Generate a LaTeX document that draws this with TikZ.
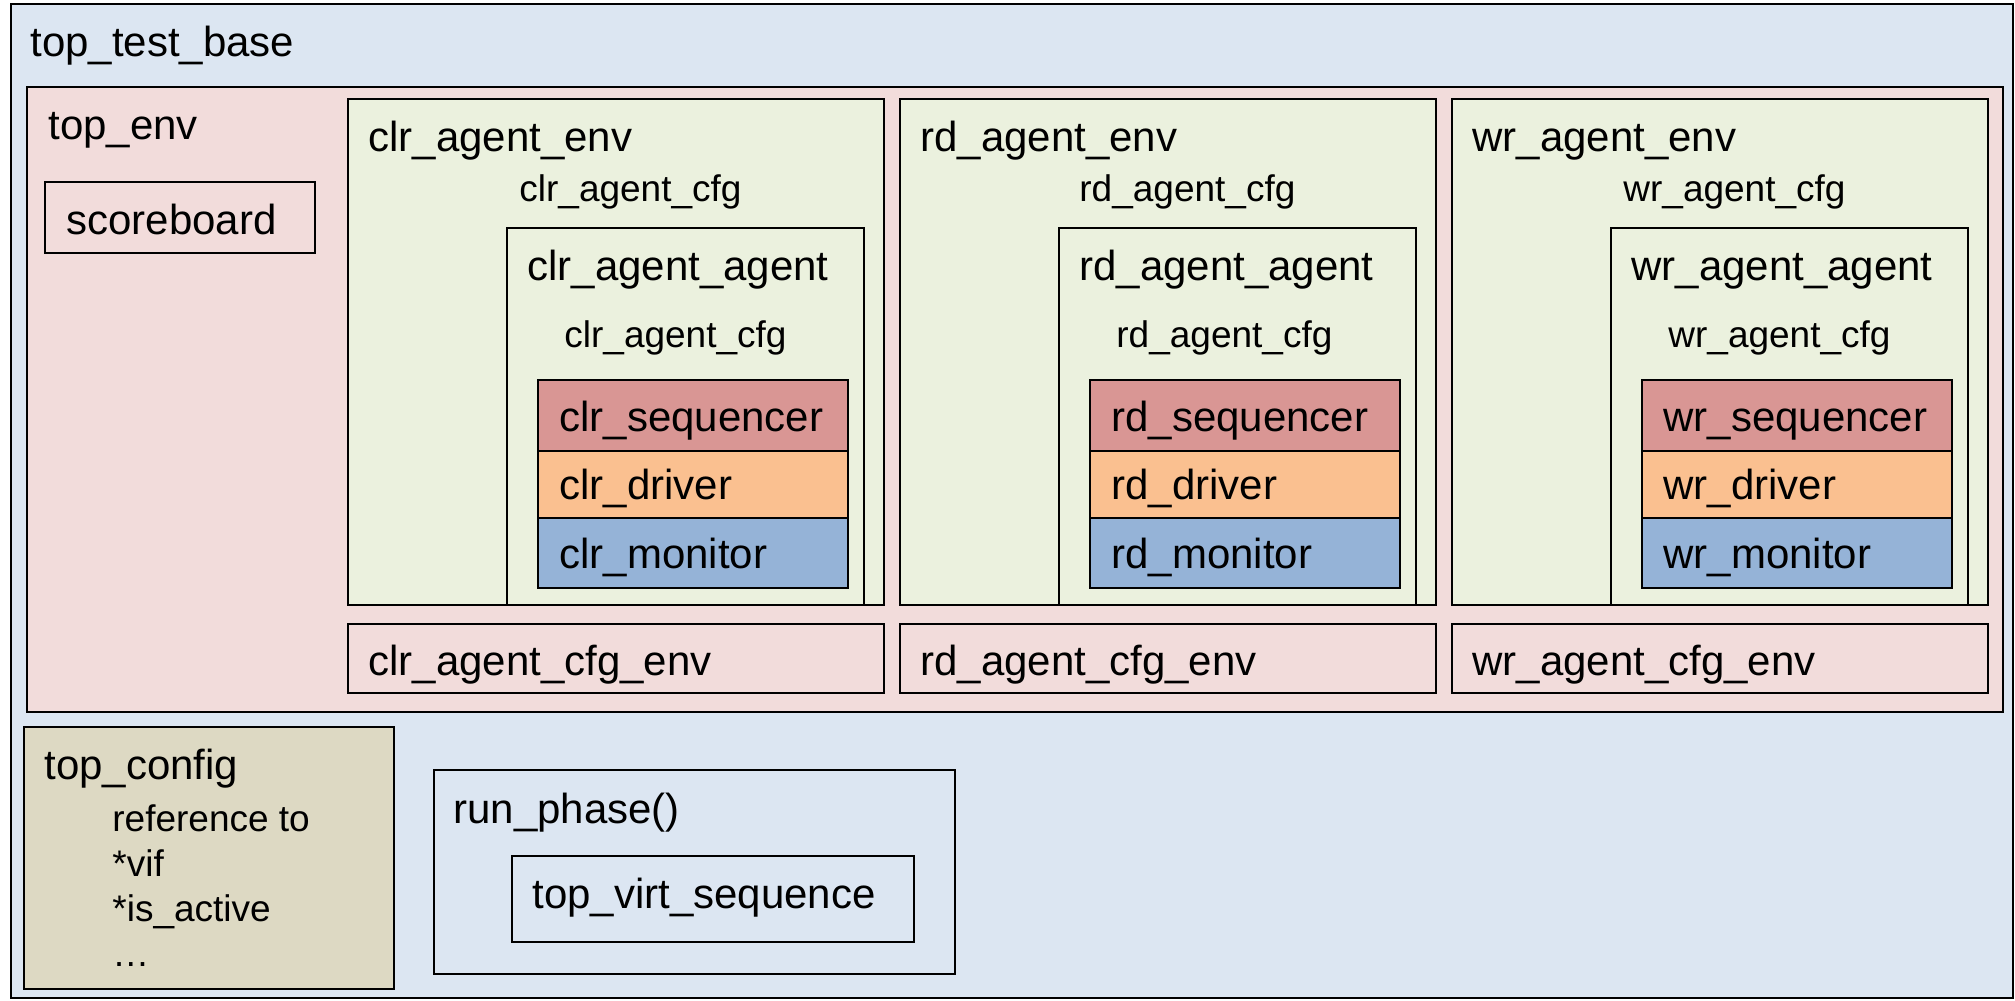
\documentclass[tikz,border=0pt]{standalone}
\usepackage{fontspec}
\setmainfont{Liberation Sans}
\definecolor{outerblue}{HTML}{DCE6F2}
\definecolor{envpink}{HTML}{F2DCDB}
\definecolor{agentgreen}{HTML}{EBF1DE}
\definecolor{seqred}{HTML}{D99694}
\definecolor{drvorange}{HTML}{FAC090}
\definecolor{monblue}{HTML}{95B3D7}
\definecolor{cfgtan}{HTML}{DDD9C3}
\tikzset{
  frame/.style={draw=black, line width=1.4pt},
  big/.style={anchor=base west, inner sep=0pt, font=\fontsize{21pt}{25pt}\selectfont},
  small/.style={anchor=base west, inner sep=0pt, font=\fontsize{18.5pt}{22pt}\selectfont},
}
\begin{document}
\begin{tikzpicture}[x=0.5pt, y=-0.5pt]
\useasboundingbox (0,0) rectangle (2015,1001);
% top_test_base
\draw[frame, fill=outerblue] (11,4) rectangle (2013,998);
\node[big] (ttb) at (30,56) {top\_test\_base};
% top_env
\draw[frame, fill=envpink] (27,87) rectangle (2003,712);
\node[big] (tenv) at (48,139) {top\_env};
\draw[frame] (45,182) rectangle (315,253);
\node[big] (sb) at (66,234) {scoreboard};
% agent columns
\foreach \L/\pre/\cfgoff in {348/clr/171, 900/rd/179, 1452/wr/171} {
  \draw[frame, fill=agentgreen] (\L,99) rectangle (\L+536,605);
  \node[big] (\pre envt) at (\L+20,151) {\pre\_agent\_env};
  \node[small] (\pre cfga) at (\L+\cfgoff,201) {\pre\_agent\_cfg};
  \draw[frame, fill=agentgreen] (\L+159,228) rectangle (\L+516,605);
  \node[big] (\pre agt) at (\L+179,280) {\pre\_agent\_agent};
  \node[small] (\pre cfgb) at (\L+216,347) {\pre\_agent\_cfg};
  \draw[frame, fill=seqred] (\L+190,380) rectangle (\L+500,451);
  \draw[frame, fill=drvorange] (\L+190,451) rectangle (\L+500,518);
  \draw[frame, fill=monblue] (\L+190,518) rectangle (\L+500,588);
  \node[big] (\pre seq) at (\L+211,431) {\pre\_sequencer};
  \node[big] (\pre drv) at (\L+211,499) {\pre\_driver};
  \node[big] (\pre mon) at (\L+211,568) {\pre\_monitor};
  \draw[frame] (\L,624) rectangle (\L+536,693);
  \node[big] (\pre cfgenv) at (\L+20,675) {\pre\_agent\_cfg\_env};
}
% top_config
\draw[frame, fill=cfgtan] (24,727) rectangle (394,989);
\node[big] (tcfg) at (44,779) {top\_config};
\node[small] (ref) at (112,831) {reference to};
\node[small] (vif) at (112,876) {*vif};
\node[small] (act) at (112,921) {*is\_active};
\node[small] (dots) at (112,966) {…};
% run_phase
\draw[frame] (434,770) rectangle (955,974);
\node[big] (rp) at (453,823) {run\_phase()};
\draw[frame] (512,856) rectangle (914,942);
\node[big] (tvs) at (532,908) {top\_virt\_sequence};
\end{tikzpicture}
\end{document}
